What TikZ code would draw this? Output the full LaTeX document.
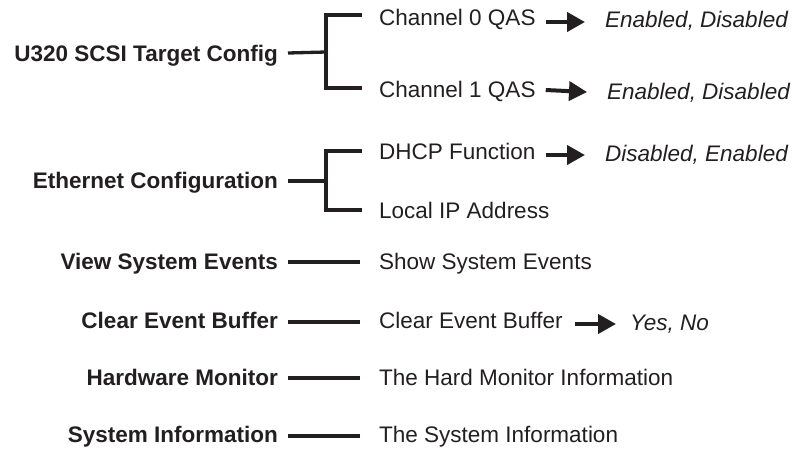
\documentclass[tikz,border=0pt]{standalone}
\usepackage{fontspec}
\setmainfont{Liberation Sans}
\usetikzlibrary{arrows.meta}
\definecolor{ink}{HTML}{231F20}
\begin{document}
\begin{tikzpicture}[x=1pt,y=-1pt,
  every node/.style={inner sep=0pt,text=ink,font=\fontsize{22.5}{26}\selectfont,text height=16pt,text depth=0pt},
  head/.style={anchor=east,font=\fontsize{22.5}{26}\selectfont\bfseries},
  item/.style={anchor=west},
  opt/.style={anchor=west,font=\fontsize{22.5}{26}\selectfont\itshape},
  conn/.style={draw=ink,line width=3.3pt},
  pointer/.style={draw=ink,line width=4pt,-{Triangle[length=18pt,width=19pt]}}]
\useasboundingbox (0,0) rectangle (798,448);
% left headings
\node[head] (u320) at (278,53) {U320 SCSI Target Config};
\node[head] (eth) at (278,180) {Ethernet Configuration};
\node[head] (view) at (278,261) {View System Events};
\node[head] (clear) at (278,320) {Clear Event Buffer};
\node[head] (hw) at (278,377) {Hardware Monitor};
\node[head] (sys) at (278,434) {System Information};
% right items
\node[item] (ch0) at (379,17) {Channel 0 QAS};
\node[item] (ch1) at (379,89) {Channel 1 QAS};
\node[item] (dhcp) at (379,151) {DHCP Function};
\node[item] (lip) at (379,210) {Local IP Address};
\node[item] (show) at (379,261) {Show System Events};
\node[item] (ceb) at (379,320) {Clear Event Buffer};
\node[item] (hmi) at (379,377) {The Hard Monitor Information};
\node[item] (tsi) at (379,434) {The System Information};
% options
\node[opt] (o0) at (605,19) {Enabled, Disabled};
\node[opt] (o1) at (607,91) {Enabled, Disabled};
\node[opt] (od) at (605,153) {Disabled, Enabled};
\node[opt] (oy) at (630,322) {Yes, No};
% brackets
\coordinate (j1) at (326,52);
\coordinate (j2) at (326,181);
\draw[conn] ([xshift=10pt]u320.east) -- (j1);
\draw[conn] ([xshift=-17pt,yshift=2pt]ch0.west) -| (j1) |- ([xshift=-17pt,yshift=1pt]ch1.west);
\draw[conn] ([xshift=10pt,yshift=-1pt]eth.east) -- (j2);
\draw[conn] ([xshift=-17pt]dhcp.west) -| (j2) |- ([xshift=-17pt]lip.west);
% straight connectors
\draw[conn] ([xshift=10pt,yshift=-1pt]view.east) -- ([xshift=-19pt,yshift=-1pt]show.west);
\draw[conn] ([xshift=10pt,yshift=-2pt]clear.east) -- ([xshift=-19pt,yshift=-2pt]ceb.west);
\draw[conn] ([xshift=10pt,yshift=-1pt]hw.east) -- ([xshift=-19pt,yshift=-1pt]hmi.west);
\draw[conn] ([xshift=10pt,yshift=-2pt]sys.east) -- ([xshift=-19pt,yshift=-2pt]tsi.west);
% arrows
\draw[pointer] ([xshift=10pt,yshift=-5pt]ch0.east) -- ([xshift=-20pt,yshift=-3pt]o0.west);
\draw[pointer] ([xshift=10pt,yshift=-1pt]ch1.east) -- ([xshift=-20pt,yshift=-1pt]o1.west);
\draw[pointer] ([xshift=10pt,yshift=-4pt]dhcp.east) -- ([xshift=-20pt,yshift=-2pt]od.west);
\draw[pointer] ([xshift=12pt,yshift=-4pt]ceb.east) -- ([xshift=-14pt,yshift=-2pt]oy.west);
\end{tikzpicture}
\end{document}
